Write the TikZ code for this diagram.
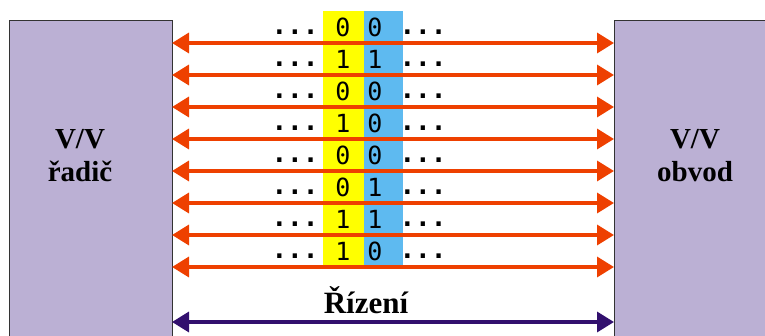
\documentclass[tikz,border=0pt]{standalone}
\usepackage{fontspec}
\setmainfont{Liberation Serif}
\newfontfamily\bitfont{DejaVu Sans Mono}
\usetikzlibrary{arrows.meta}
\definecolor{unitlilac}{RGB}{187,176,212}
\definecolor{lineorange}{RGB}{238,64,0}
\definecolor{ctrlpurple}{RGB}{50,16,110}
\definecolor{bityellow}{RGB}{255,255,0}
\definecolor{bitblue}{RGB}{94,186,240}
\tikzset{
  unit/.style={draw=black!80, fill=unitlilac, line width=1pt},
  unitlabel/.style={font=\fontsize{29}{33}\selectfont\bfseries, align=center},
  wire/.style={line width=3.5pt, {Triangle[length=17pt,width=20pt]}-{Triangle[length=17pt,width=20pt]}},
  bit/.style={font=\bitfont\fontsize{25}{25}\selectfont, inner sep=0pt},
  more/.style={bit, font=\bitfont\fontsize{26}{26}\selectfont\bfseries, anchor=base}
}
\begin{document}
\begin{tikzpicture}[x=1pt, y=-1pt]
  \useasboundingbox (0,0) rectangle (765,336);
  \clip (0,0) rectangle (765,336);
  % the two units
  \draw[unit] (9,21) rectangle (172,350);
  \draw[unit] (614,21) rectangle (780,350);
  \node[unitlabel] (ctrl) at (80,156) {V/V\\řadič};
  \node[unitlabel] (dev) at (695,156) {V/V\\obvod};

  % bit columns
  \fill[bityellow] (323,11) rectangle (364,267);
  \fill[bitblue] (364,11) rectangle (403,267);

  \foreach \a/\b [count=\i from 0] in {0/0,1/1,0/0,1/0,0/0,0/1,1/1,1/0} {
    \node[bit] (a\i) at (343,27+32*\i) {\a};
    \node[bit] (b\i) at (375,27+32*\i) {\b};
    \node[more] (dl\i) at (295,35+32*\i) {...};
    \node[more] (dr\i) at (423,35+32*\i) {...};
    \coordinate (l\i) at (172,43+32*\i);
    \coordinate (r\i) at (614,43+32*\i);
    \draw[wire, lineorange] (l\i) -- (r\i);
  }

  % control line
  \coordinate (lc) at (172,322);
  \coordinate (rc) at (614,322);
  \draw[wire, ctrlpurple] (lc) -- (rc);
  \node[font=\fontsize{31}{34}\selectfont\bfseries] (riz) at (366,300) {Řízení};
\end{tikzpicture}
\end{document}
